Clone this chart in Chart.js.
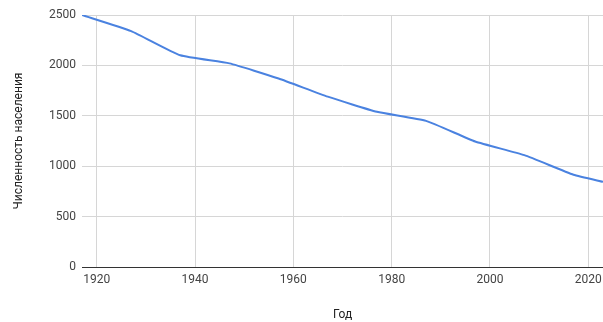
<!DOCTYPE html>
<html><head><meta charset="utf-8">
<script src="https://cdn.jsdelivr.net/npm/chart.js@4"></script>
<style>html,body{margin:0;padding:0;background:#fff}#wrap{width:603px;height:322px}</style>
</head><body><div id="wrap"><canvas id="c"></canvas></div>
<script>
const years = [1917, 1927, 1937, 1947, 1957, 1967, 1977, 1987, 1997, 2007, 2017, 2023];
const population = [2500, 2340, 2100, 2020, 1870, 1690, 1540, 1450, 1245, 1110, 915, 845];
const xTicks = [1920, 1940, 1960, 1980, 2000, 2020];
const yTicks = [0, 500, 1000, 1500, 2000, 2500];
const xTitle = 'Год';
const yTitle = 'Численность населения';

const font = {family: 'Roboto, Arial, sans-serif', size: 12};
new Chart(document.getElementById('c'), {
  type: 'line',
  data: {
    datasets: [{
      data: years.map((y, i) => ({x: y, y: population[i]})),
      borderColor: '#4a82e0',
      borderWidth: 2,
      pointRadius: 0,
      tension: 0.15,
      fill: false
    }]
  },
  options: {
    responsive: true, maintainAspectRatio: false, animation: false,
    layout: {padding: {top: 15, right: 0, left: 0, bottom: 0}},
    plugins: {legend: {display: false}, tooltip: {enabled: false}},
    scales: {
      x: {
        type: 'linear', min: 1917, max: 2023,
        afterBuildTicks: s => { s.ticks = xTicks.map(v => ({value: v})); },
        afterFit: s => { s.height = 55; s.paddingRight = 0; s.paddingLeft = 0; },
        ticks: {font, color: '#444', padding: 6, maxRotation: 0, callback: v => String(v)},
        grid: {color: '#d6d6d6', drawTicks: false},
        border: {display: true, color: '#333', width: 1},
        title: {display: true, text: xTitle, font, color: '#222', padding: {top: 4, bottom: 0}}
      },
      y: {
        min: 0, max: 2500,
        afterBuildTicks: s => { s.ticks = yTicks.map(v => ({value: v})); },
        afterFit: s => { s.width = 82; s.paddingTop = 0; s.paddingBottom = 0; },
        ticks: {font, color: '#444', padding: 6, callback: v => String(v)},
        grid: {color: ctx => ctx.tick && ctx.tick.value === 0 ? '#333' : '#d6d6d6', drawTicks: false},
        border: {display: false},
        title: {display: true, text: yTitle, font, color: '#222', padding: {top: 12, bottom: 0}}
      }
    }
  }
});
</script></body></html>
